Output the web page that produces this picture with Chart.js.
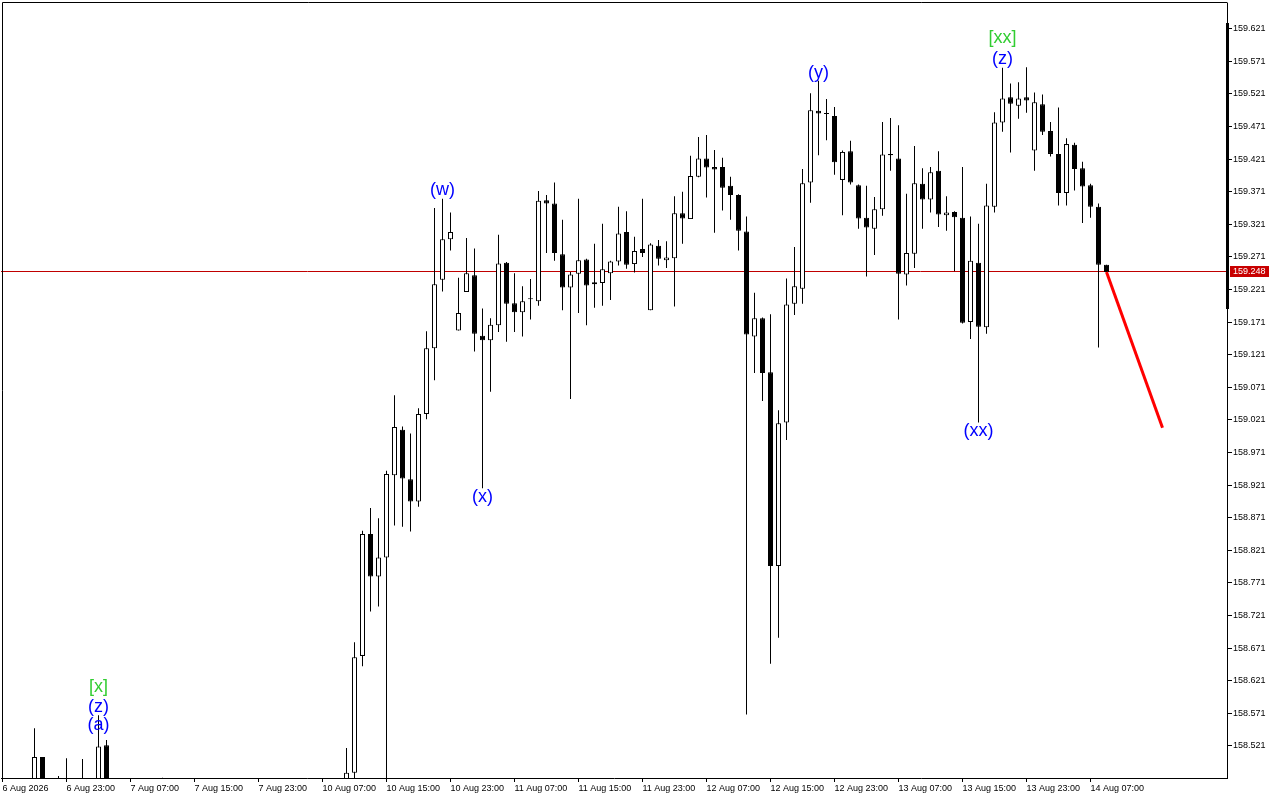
<!DOCTYPE html>
<html>
<head>
<meta charset="utf-8">
<title>H1 chart</title>
<script src="https://cdn.jsdelivr.net/npm/chart.js@4.4.1/dist/chart.umd.min.js"></script>
<style>
  html, body { margin: 0; padding: 0; background: #fff; }
  canvas { display: block; }
</style>
</head>
<body>
<canvas id="chart" width="1280" height="800"></canvas>
<script>
// Hourly bars, index 0 = 6 Aug 15:00. Bars that sit fully below the window are left out.
const BAR = [
  4, 5, 7, 8, 10, 12, 13, 20,
  43, 44, 45, 46, 47, 48, 49, 50, 51, 52,
  53, 54, 55, 56, 57, 58, 59, 60, 61, 62,
  63, 64, 65, 66, 67, 68, 69, 70, 71, 72,
  73, 74, 75, 76, 77, 78, 79, 80, 81, 82,
  83, 84, 85, 86, 87, 88, 89, 90, 91, 92,
  93, 94, 95, 96, 97, 98, 99, 100, 101, 102,
  103, 104, 105, 106, 107, 108, 109, 110, 111, 112,
  113, 114, 115, 116, 117, 118, 119, 120, 121, 122,
  123, 124, 125, 126, 127, 128, 129, 130, 131, 132,
  133, 134, 135, 136, 137, 138
]
const OPEN = [
  158.450, 158.504, 158.460, 158.460, 158.460, 158.450, 158.522, 158.460,
  158.462, 158.480, 158.659, 158.846, 158.781, 158.810, 158.936, 159.006, 158.930, 158.896,
  159.030, 159.131, 159.236, 159.298, 159.158, 159.217, 159.243, 159.150, 159.143, 159.166,
  159.262, 159.200, 159.186, 159.206, 159.203, 159.358, 159.353, 159.275, 159.224, 159.245,
  159.267, 159.232, 159.231, 159.246, 159.264, 159.309, 159.260, 159.283, 159.189, 159.288,
  159.266, 159.269, 159.338, 159.329, 159.394, 159.422, 159.409, 159.409, 159.380, 159.366,
  159.310, 159.149, 159.177, 159.094, 158.797, 159.017, 159.199, 159.222, 159.385, 159.495,
  159.490, 159.487, 159.389, 159.433, 159.381, 159.331, 159.314, 159.344, 159.429, 159.422,
  159.244, 159.276, 159.383, 159.359, 159.403, 159.335, 159.340, 159.331, 159.171, 159.262,
  159.163, 159.348, 159.477, 159.516, 159.503, 159.516, 159.434, 159.505, 159.464, 159.429,
  159.369, 159.443, 159.407, 159.381, 159.348, 159.259
]
const HIGH = [
  158.548, 158.504, 158.475, 158.502, 158.501, 158.568, 158.530, 158.472,
  158.518, 158.680, 158.851, 158.886, 158.870, 158.943, 159.059, 159.011, 159.000, 159.039,
  159.157, 159.346, 159.360, 159.339, 159.239, 159.300, 159.284, 159.192, 159.177, 159.305,
  159.263, 159.246, 159.226, 159.237, 159.372, 159.366, 159.385, 159.328, 159.248, 159.360,
  159.268, 159.291, 159.322, 159.265, 159.348, 159.341, 159.302, 159.360, 159.292, 159.297,
  159.295, 159.364, 159.371, 159.426, 159.455, 159.458, 159.435, 159.423, 159.394, 159.367,
  159.333, 159.216, 159.178, 159.183, 159.036, 159.238, 159.286, 159.406, 159.522, 159.541,
  159.513, 159.501, 159.434, 159.449, 159.382, 159.380, 159.363, 159.478, 159.484, 159.473,
  159.368, 159.441, 159.407, 159.409, 159.433, 159.364, 159.341, 159.409, 159.333, 159.322,
  159.383, 159.493, 159.561, 159.537, 159.539, 159.562, 159.523, 159.520, 159.478, 159.500,
  159.453, 159.446, 159.417, 159.383, 159.353, 159.259
]
const LOW = [
  158.440, 158.440, 158.450, 158.440, 158.440, 158.440, 158.440, 158.450,
  158.450, 158.460, 158.643, 158.727, 158.735, 158.440, 158.859, 158.857, 158.850, 158.888,
  159.022, 159.082, 159.218, 159.281, 159.158, 159.217, 159.126, 158.916, 159.064, 159.156,
  159.141, 159.156, 159.149, 159.175, 159.196, 159.277, 159.265, 159.189, 159.053, 159.185,
  159.166, 159.193, 159.196, 159.205, 159.258, 159.253, 159.247, 159.271, 159.189, 159.258,
  159.254, 159.195, 159.291, 159.329, 159.393, 159.362, 159.308, 159.342, 159.328, 159.281,
  158.569, 159.093, 159.050, 158.647, 158.687, 158.990, 159.182, 159.199, 159.354, 159.427,
  159.450, 159.397, 159.335, 159.382, 159.314, 159.241, 159.274, 159.334, 159.403, 159.175,
  159.227, 159.254, 159.314, 159.339, 159.317, 159.311, 159.249, 159.169, 159.145, 159.017,
  159.153, 159.339, 159.463, 159.431, 159.483, 159.492, 159.403, 159.458, 159.425, 159.350,
  159.350, 159.373, 159.323, 159.331, 159.132, 159.248
]
const CLOSE = [
  158.504, 158.450, 158.455, 158.450, 158.450, 158.520, 158.450, 158.455,
  158.480, 158.657, 158.846, 158.781, 158.810, 158.938, 159.010, 158.931, 158.896, 159.030,
  159.131, 159.229, 159.298, 159.309, 159.185, 159.246, 159.153, 159.143, 159.167, 159.261,
  159.199, 159.186, 159.203, 159.206, 159.357, 159.353, 159.277, 159.224, 159.244, 159.266,
  159.227, 159.229, 159.252, 159.264, 159.307, 159.259, 159.280, 159.277, 159.290, 159.268,
  159.270, 159.338, 159.330, 159.395, 159.422, 159.408, 159.405, 159.377, 159.366, 159.311,
  159.152, 159.177, 159.093, 158.797, 159.016, 159.198, 159.226, 159.384, 159.496, 159.491,
  159.490, 159.416, 159.432, 159.385, 159.330, 159.316, 159.344, 159.428, 159.427, 159.245,
  159.277, 159.384, 159.359, 159.401, 159.336, 159.339, 159.332, 159.170, 159.265, 159.164,
  159.350, 159.477, 159.514, 159.506, 159.514, 159.511, 159.508, 159.463, 159.429, 159.369,
  159.444, 159.406, 159.379, 159.348, 159.259, 159.248
]

const LAST_PRICE = 159.248

// projected move (red line)
const FORECAST_BAR = [138, 145]
const FORECAST_PRICE = [159.248, 159.009]

// wave labels
const WAVE_TEXT = ['[x]', '(z)', '(a)', '(w)', '(x)', '(y)', '(xx)', '[xx]', '(z)']
const WAVE_BAR = [12, 12, 12, 55, 60, 102, 122, 125, 125]
const WAVE_PRICE = [158.611, 158.580, 158.553, 159.373, 158.902, 159.553, 159.004, 159.606, 159.575]

const X_TICK_POS = [0, 8, 16, 24, 32, 40, 48, 56, 64, 72, 80, 88, 96, 104, 112, 120, 128, 136]
const X_TICK_TEXT = [
  '6 Aug 2026', '6 Aug 23:00', '7 Aug 07:00', '7 Aug 15:00', '7 Aug 23:00',
  '10 Aug 07:00', '10 Aug 15:00', '10 Aug 23:00', '11 Aug 07:00', '11 Aug 15:00',
  '11 Aug 23:00', '12 Aug 07:00', '12 Aug 15:00', '12 Aug 23:00', '13 Aug 07:00',
  '13 Aug 15:00', '13 Aug 23:00', '14 Aug 07:00'
]
const Y_TICKS = [
  159.621, 159.571, 159.521, 159.471, 159.421, 159.371, 159.321, 159.271, 159.221,
  159.171, 159.121, 159.071, 159.021, 158.971, 158.921, 158.871, 158.821, 158.771,
  158.721, 158.671, 158.621, 158.571, 158.521
]

const FONT_FAMILY = "'Liberation Sans', Arial, sans-serif"
const AXIS_FONT = { family: FONT_FAMILY, size: 9 }

const mtFrame = {
  id: 'mtFrame',
  beforeDraw (chart) {
    const ctx = chart.ctx
    ctx.save()
    ctx.fillStyle = '#fff'
    ctx.fillRect(0, 0, chart.width, chart.height)
    ctx.restore()
  },
  beforeDatasetsDraw (chart) {
    const { ctx, chartArea: a, scales: { y } } = chart
    const py = Math.floor(y.getPixelForValue(LAST_PRICE)) + 0.5
    ctx.save()
    ctx.strokeStyle = '#c00000'
    ctx.lineWidth = 1
    ctx.beginPath()
    ctx.moveTo(a.left, py)
    ctx.lineTo(a.right, py)
    ctx.stroke()
    ctx.restore()
  },
  afterDatasetsDraw (chart) {
    const { ctx, scales: { x, y } } = chart
    ctx.save()
    ctx.font = '18px ' + FONT_FAMILY
    ctx.textAlign = 'center'
    ctx.textBaseline = 'middle'
    WAVE_TEXT.forEach((t, i) => {
      ctx.fillStyle = t[0] === '[' ? '#32cd32' : '#0000ff'
      ctx.fillText(t, x.getPixelForValue(WAVE_BAR[i]), y.getPixelForValue(WAVE_PRICE[i]))
    })
    ctx.restore()
  },
  afterDraw (chart) {
    const { ctx, chartArea: a, scales: { y } } = chart
    ctx.save()
    // frame
    ctx.strokeStyle = '#000'
    ctx.lineWidth = 1
    ctx.beginPath()
    ctx.moveTo(2.5, a.bottom)
    ctx.lineTo(2.5, 2.5)
    ctx.lineTo(a.right + 0.5, 2.5)
    ctx.stroke()
    // thick mark on the price scale
    ctx.fillStyle = '#000'
    ctx.fillRect(a.right - 1, 23, 3, 286)
    // current price tag
    const py = Math.floor(y.getPixelForValue(LAST_PRICE))
    ctx.fillStyle = '#c80000'
    ctx.fillRect(a.right + 3, py - 5, 39, 11)
    ctx.fillStyle = '#fff'
    ctx.font = '9px ' + FONT_FAMILY
    ctx.textAlign = 'left'
    ctx.textBaseline = 'middle'
    ctx.fillText(LAST_PRICE.toFixed(3), a.right + 6, py + 0.5)
    ctx.restore()
  }
}

new Chart(document.getElementById('chart'), {
  type: 'bar',
  data: {
    datasets: [
      {
        type: 'line',
        order: 0,
        data: FORECAST_BAR.map((k, i) => ({ x: k, y: FORECAST_PRICE[i] })),
        borderColor: '#ff0000',
        borderWidth: 3,
        pointRadius: 0,
        clip: 0
      },
      {
        order: 1,
        data: BAR.map((k, i) => ({ x: k, y: [OPEN[i], CLOSE[i]] })),
        backgroundColor: BAR.map((k, i) => CLOSE[i] >= OPEN[i] ? '#ffffff' : '#000000'),
        borderColor: '#000',
        borderWidth: 1,
        borderSkipped: false,
        maxBarThickness: 5,
        minBarLength: 1,
        grouped: false,
        clip: 0
      },
      {
        order: 2,
        data: BAR.map((k, i) => ({ x: k, y: [LOW[i], HIGH[i]] })),
        backgroundColor: '#000',
        borderWidth: 0,
        maxBarThickness: 1,
        grouped: false,
        clip: 0
      }
    ]
  },
  options: {
    responsive: false,
    devicePixelRatio: 1,
    animation: false,
    events: [],
    layout: { padding: { top: 3, left: 1, right: 0, bottom: 0 } },
    plugins: {
      legend: { display: false },
      tooltip: { enabled: false }
    },
    scales: {
      x: {
        type: 'linear',
        offset: false,
        min: -0.1875,
        max: 153.0625,
        afterBuildTicks: (s) => { s.ticks = X_TICK_POS.map(v => ({ value: v })) },
        afterFit: (s) => { s.height = 22; s.paddingLeft = 0; s.paddingRight = 0 },
        grid: { offset: false, drawOnChartArea: false, drawTicks: true, tickLength: 4, tickColor: '#000' },
        border: { display: true, color: '#000' },
        ticks: {
          autoSkip: false,
          maxRotation: 0,
          align: 'start',
          padding: 1,
          color: '#000',
          font: AXIS_FONT,
          callback: (v, i) => X_TICK_TEXT[i]
        }
      },
      y: {
        position: 'right',
        offset: false,
        min: 158.4718,
        max: 159.6604,
        afterBuildTicks: (s) => { s.ticks = Y_TICKS.map(v => ({ value: v })) },
        afterFit: (s) => { s.width = 53; s.paddingTop = 0; s.paddingBottom = 0 },
        grid: { drawOnChartArea: false, drawTicks: true, tickLength: 5, tickColor: '#000' },
        border: { display: true, color: '#000' },
        ticks: {
          autoSkip: false,
          padding: 1,
          color: '#000',
          font: AXIS_FONT,
          callback: (v) => Number(v).toFixed(3)
        }
      }
    }
  },
  plugins: [mtFrame]
})
</script>
</body>
</html>
